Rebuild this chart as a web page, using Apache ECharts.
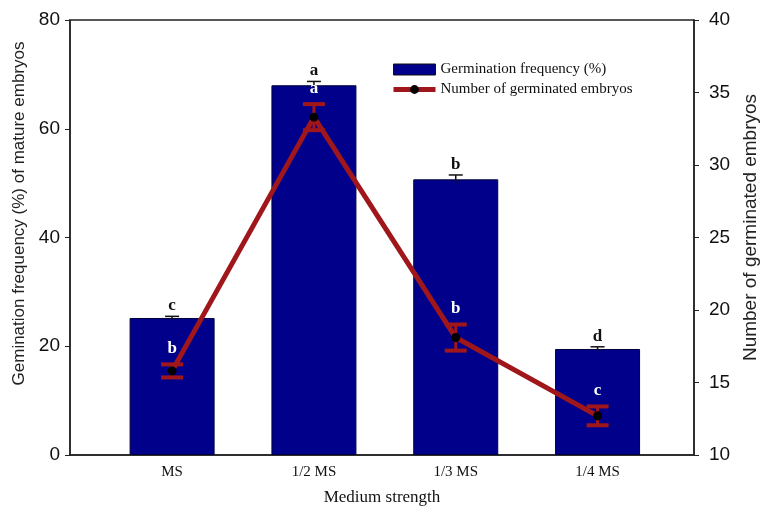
<!DOCTYPE html>
<html>
<head>
<meta charset="utf-8">
<script src="https://cdn.jsdelivr.net/npm/echarts@6/dist/echarts.min.js"></script>
<style>
  html, body { margin: 0; padding: 0; background: #fff; }
  #chart { width: 762px; height: 508px; }
</style>
</head>
<body>
<div id="chart"></div>
<script>
// medium strength groups
const categories = ['MS', '1/2 MS', '1/3 MS', '1/4 MS'];
// germination frequency (%) - bars, left axis
const germFreq = [25.2, 68.0, 50.7, 19.5];
const germFreqErr = [0.3, 0.7, 0.8, 0.4];
const freqLetters = ['c', 'a', 'b', 'd'];
// number of germinated embryos - line, right axis
const embryos = [15.8, 33.3, 18.1, 12.7];
const embryosErr = [0.45, 0.9, 0.9, 0.65];
const embryoLetters = ['b', 'a', 'b', 'c'];
// axis ticks
const leftTicks = [0, 20, 40, 60, 80];
const rightTicks = [10, 15, 20, 25, 30, 35, 40];

const navy = '#00008b';
const darkRed = '#a0171b';
const xs = categories.map((c, i) => i + 1);

const chart = echarts.init(document.getElementById('chart'));

const option = {
    animation: false,
    grid: {
        left: 70,
        right: 68,
        top: 20,
        bottom: 53,
        outerBoundsMode: 'none',
        containLabel: false,
        show: true,
        borderColor: '#222',
        borderWidth: 1.5,
    },
    legend: {
        orient: 'vertical',
        left: 386,
        top: 57,
        itemWidth: 42,
        itemHeight: 11,
        itemGap: 5,
        textStyle: { fontFamily: 'Liberation Serif', fontSize: 15, color: '#111' },
        data: [
            {
                name: 'Germination frequency (%)',
                icon: 'rect',
                itemStyle: { color: navy, borderColor: '#111', borderWidth: 1 },
            },
            {
                name: 'Number of germinated embryos',
                lineStyle: { color: darkRed, width: 5 },
            },
        ],
    },
    xAxis: {
        type: 'value',
        min: 0.28,
        max: 4.68,
        name: 'Medium strength',
        nameLocation: 'middle',
        nameGap: 34,
        nameTextStyle: { fontFamily: 'Liberation Serif', fontSize: 17, color: '#111' },
        axisLine: { lineStyle: { color: '#222', width: 1.5 } },
        axisTick: { show: false },
        splitLine: { show: false },
        axisLabel: {
            customValues: xs,
            formatter: (v) => categories[Math.round(v) - 1] || '',
            fontFamily: 'Liberation Serif',
            fontSize: 15,
            color: '#111',
            margin: 10,
        },
    },
    yAxis: [
        {
            type: 'value',
            min: leftTicks[0],
            max: leftTicks[leftTicks.length - 1],
            interval: 20,
            name: 'Gemination frequency (%) of mature embryos',
            nameLocation: 'middle',
            nameRotate: 90,
            nameGap: 42,
            nameTextStyle: {
                fontFamily: 'Liberation Sans',
                fontSize: 17,
                color: '#222',
                padding: [0, 0, 0, 48],
            },
            axisLine: { show: true, lineStyle: { color: '#222', width: 1.5 } },
            axisTick: { show: true, length: 5, lineStyle: { color: '#222' } },
            splitLine: { show: false },
            axisLabel: { fontFamily: 'Liberation Sans', fontSize: 19, color: '#111', margin: 10 },
        },
        {
            type: 'value',
            min: rightTicks[0],
            max: rightTicks[rightTicks.length - 1],
            interval: 5,
            position: 'right',
            name: 'Number of germinated embryos',
            nameLocation: 'middle',
            nameRotate: 90,
            nameGap: 47,
            nameTextStyle: {
                fontFamily: 'Liberation Sans',
                fontSize: 19,
                color: '#222',
                padding: [0, 0, 0, 20],
            },
            axisLine: { show: true, lineStyle: { color: '#222', width: 1.5 } },
            axisTick: { show: true, length: 5, lineStyle: { color: '#222' } },
            splitLine: { show: false },
            axisLabel: { fontFamily: 'Liberation Sans', fontSize: 19, color: '#111', margin: 15 },
        },
    ],
    series: [
        {
            name: 'Germination frequency (%)',
            type: 'bar',
            yAxisIndex: 0,
            barWidth: 85,
            z: 2,
            itemStyle: { color: navy, borderColor: '#00003a', borderWidth: 1 },
            data: xs.map((x, i) => [x, germFreq[i]]),
        },
        {
            // error bars + letters for bars
            type: 'custom',
            yAxisIndex: 0,
            z: 3,
            silent: true,
            data: xs.map((x, i) => [x, germFreq[i], germFreqErr[i]]),
            encode: { x: 0, y: 1 },
            renderItem: (params, api) => {
                const i = params.dataIndex;
                const x = api.value(0);
                const top = api.coord([x, api.value(1) + api.value(2)]);
                const bot = api.coord([x, api.value(1) - api.value(2)]);
                const st = { stroke: '#111', lineWidth: 1.5 };
                return {
                    type: 'group',
                    children: [
                        { type: 'line', shape: { x1: top[0], y1: top[1], x2: bot[0], y2: bot[1] }, style: st },
                        { type: 'line', shape: { x1: top[0] - 7, y1: top[1], x2: top[0] + 7, y2: top[1] }, style: st },
                        {
                            type: 'text',
                            x: top[0],
                            y: top[1] - 2,
                            style: {
                                text: freqLetters[i],
                                fill: '#111',
                                font: 'bold 17px "Liberation Serif"',
                                align: 'center',
                                verticalAlign: 'bottom',
                            },
                        },
                    ],
                };
            },
        },
        {
            // error bars + letters for line
            type: 'custom',
            yAxisIndex: 1,
            z: 4,
            silent: true,
            data: xs.map((x, i) => [x, embryos[i], embryosErr[i]]),
            encode: { x: 0, y: 1 },
            renderItem: (params, api) => {
                const i = params.dataIndex;
                const x = api.value(0);
                const top = api.coord([x, api.value(1) + api.value(2)]);
                const bot = api.coord([x, api.value(1) - api.value(2)]);
                const st = { stroke: darkRed, lineWidth: 4 };
                return {
                    type: 'group',
                    children: [
                        { type: 'line', shape: { x1: top[0], y1: top[1], x2: bot[0], y2: bot[1] }, style: { stroke: darkRed, lineWidth: 3 } },
                        { type: 'line', shape: { x1: top[0] - 11, y1: top[1], x2: top[0] + 11, y2: top[1] }, style: st },
                        { type: 'line', shape: { x1: bot[0] - 11, y1: bot[1], x2: bot[0] + 11, y2: bot[1] }, style: st },
                        {
                            type: 'text',
                            x: top[0],
                            y: top[1] - 7,
                            style: {
                                text: embryoLetters[i],
                                fill: '#fff',
                                font: 'bold 17px "Liberation Serif"',
                                align: 'center',
                                verticalAlign: 'bottom',
                            },
                        },
                    ],
                };
            },
        },
        {
            name: 'Number of germinated embryos',
            type: 'line',
            yAxisIndex: 1,
            z: 5,
            symbol: 'circle',
            symbolSize: 9,
            itemStyle: { color: '#000' },
            lineStyle: { color: darkRed, width: 5 },
            data: xs.map((x, i) => [x, embryos[i]]),
        },
    ],
};

chart.setOption(option);
</script>
</body>
</html>
